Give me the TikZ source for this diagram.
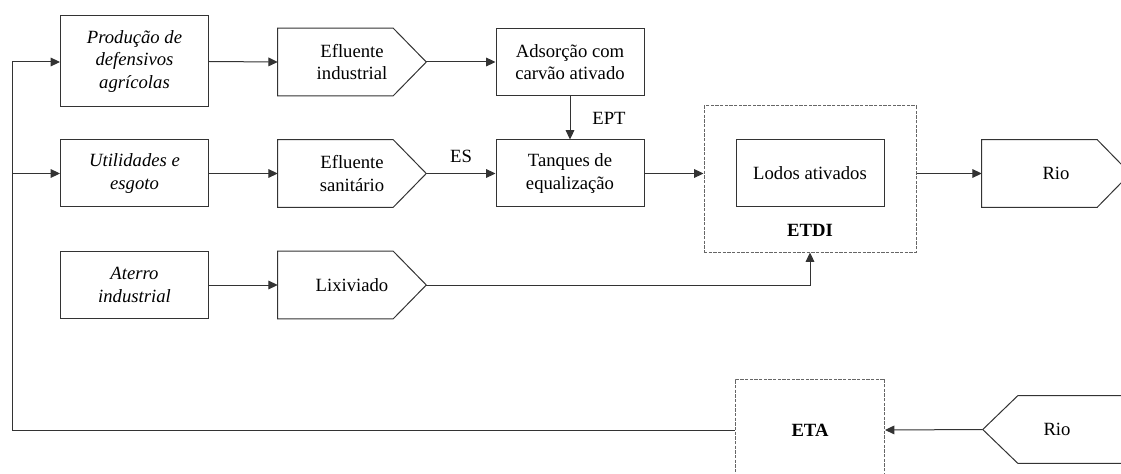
\documentclass[tikz,border=0pt]{standalone}
\usepackage{fontspec}
\setmainfont{Liberation Serif}
\usetikzlibrary{arrows.meta}

\begin{document}
\begin{tikzpicture}[x=0.75pt, y=-0.75pt,
  every node/.style={font=\fontsize{14}{17}\selectfont, align=center},
  line/.style={draw=black!80, line width=0.75pt},
  box/.style={line, minimum width=111pt, minimum height=50.25pt, inner sep=0pt},
  src/.style={box, font=\fontsize{14}{17}\selectfont\itshape},
  stream/.style={minimum width=111pt, minimum height=50.25pt, inner sep=0pt,
    append after command={\pgfextra{\draw[line] (\tikzlastnode.north west)
      -- ([xshift=-24.75pt]\tikzlastnode.north east) -- (\tikzlastnode.east)
      -- ([xshift=-24.75pt]\tikzlastnode.south east) -- (\tikzlastnode.south west) -- cycle;}}},
  intake/.style={minimum width=111pt, minimum height=50.25pt, inner sep=0pt,
    append after command={\pgfextra{\draw[line] (\tikzlastnode.north east)
      -- ([xshift=26.25pt]\tikzlastnode.north west) -- (\tikzlastnode.west)
      -- ([xshift=26.25pt]\tikzlastnode.south west) -- (\tikzlastnode.south east);}}},
  plant/.style={draw=black!60, line width=0.75pt, dash pattern=on 2.5pt off 1pt, inner sep=0pt, font=\fontsize{14}{17}\selectfont\bfseries},
  flow/.style={line, -{Triangle[length=7pt,width=6.5pt]}}
]
\useasboundingbox (0,0) rectangle (1121,474);
\clip (0,0) rectangle (1121,474);
\node[src, minimum height=68.25pt] (prod) at (134.5,61.5) {Produção de\\defensivos\\agrícolas};
\node[stream] (ind) at (352,62) {Efluente\\industrial};
\node[box] (ads) at (570,62) {Adsorção com\\carvão ativado};
\node[src] (util) at (134.5,173.5) {Utilidades e\\esgoto};
\node[stream] (san) at (352,173.5) {Efluente\\sanitário};
\node[box] (tanq) at (570,173.5) {Tanques de\\equalização};
\node[plant, minimum width=159pt, minimum height=109.5pt] (etdi) at (810,179) {};
\node[box] (lodos) at (810,173.5) {Lodos ativados};
\node[font=\fontsize{14}{17}\selectfont\bfseries] (etdilbl) at (810,230) {ETDI};
\node[stream] (rio1) at (1056,173.5) {Rio};
\node[src] (ater) at (134.5,285) {Aterro\\industrial};
\node[stream] (lix) at (352,285) {Lixiviado};
\node[plant, minimum width=111.75pt, minimum height=76.5pt] (eta) at (810,430) {ETA};
\node[intake] (rio2) at (1057,429.5) {Rio};
\node (ept) at (609,118) {EPT};
\node (es) at (461,156) {ES};
\coordinate (bus) at (12,62);
\draw[flow] (prod.east) -- (ind.west);
\draw[flow] (ind.east) -- (ads.west);
\draw[flow] (ads.south) -- (tanq.north);
\draw[flow] (util.east) -- (san.west);
\draw[flow] (san.east) -- (tanq.west);
\draw[flow] (tanq.east) -- (tanq.east -| etdi.west);
\draw[flow] (lodos.east -| etdi.east) -- (rio1.west);
\draw[flow] (ater.east) -- (lix.west);
\draw[flow] (lix.east) -| (etdi.south);
\draw[flow] (rio2.west) -- (eta.east);
\draw[line] (eta.west) -| (bus);
\draw[flow] (bus) -- (bus -| prod.west);
\draw[flow] (bus |- util.west) -- (util.west);
\end{tikzpicture}
\end{document}
